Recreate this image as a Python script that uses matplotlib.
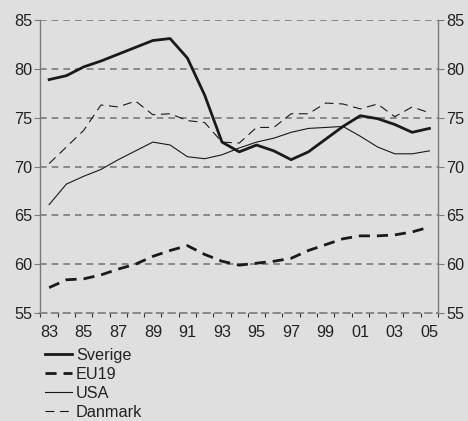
import numpy as np
import matplotlib.pyplot as plt

plt.rcParams['font.family'] = ['Liberation Sans', 'DejaVu Sans']

YEARS = ['83', '84', '85', '86', '87', '88', '89', '90', '91', '92', '93', '94',
         '95', '96', '97', '98', '99', '00', '01', '02', '03', '04', '05']

SVERIGE = [78.9, 79.3, 80.2, 80.8, 81.5, 82.2, 82.9, 83.1, 81.1, 77.3, 72.5, 71.5,
           72.2, 71.6, 70.7, 71.5, 72.8, 74.1, 75.2, 74.9, 74.3, 73.5, 73.9]
EU19 = [57.6, 58.4, 58.5, 58.9, 59.5, 60.0, 60.8, 61.4, 61.9, 61.0, 60.3, 59.9,
        60.1, 60.3, 60.6, 61.4, 62.0, 62.6, 62.9, 62.9, 63.0, 63.3, 63.8]
USA = [66.1, 68.2, 69.0, 69.7, 70.7, 71.6, 72.5, 72.2, 71.0, 70.8, 71.2, 71.9,
       72.5, 72.9, 73.5, 73.9, 74.0, 74.1, 73.1, 72.0, 71.3, 71.3, 71.6]
DANMARK = [70.3, 72.0, 73.7, 76.3, 76.1, 76.7, 75.3, 75.4, 74.7, 74.5, 72.5, 72.4,
           74.0, 74.0, 75.4, 75.4, 76.5, 76.4, 75.9, 76.4, 75.1, 76.1, 75.5]

BG = '#dfdfdf'
GRID = '#7a7a7a'
LINE = '#1a1a1a'
FS = 11.7

fig = plt.figure(figsize=(4.68, 4.21), dpi=100, facecolor=BG)
ax = fig.add_axes([0.0865, 0.2565, 0.8495, 0.696])
ax.set_facecolor(BG)

x = np.arange(len(YEARS))
ax.plot(x, SVERIGE, color=LINE, lw=2.0, label='Sverige', zorder=5)
ax.plot(x, EU19, color=LINE, lw=2.0, dashes=(4, 2.5), label='EU19', zorder=5)
ax.plot(x, USA, color=LINE, lw=0.8, label='USA', zorder=4)
ax.plot(x, DANMARK, color=LINE, lw=0.8, dashes=(8, 5), label='Danmark', zorder=4)

ax.set_xlim(-0.5, len(YEARS) - 0.5)
ax.set_ylim(55, 85)
for v in range(60, 86, 5):
    ax.axhline(v, color=GRID, lw=1.2, dashes=(4, 3), zorder=1)

ax.spines['top'].set_visible(False)
ax.spines['bottom'].set_color(GRID)
ax.spines['bottom'].set_linewidth(1.2)
ax.spines['bottom'].set_linestyle((0, (4, 3)))
for s in ['left', 'right']:
    ax.spines[s].set_color(GRID)
    ax.spines[s].set_linewidth(1.0)

# year ticks at category edges, labels every second year at centres
ax.set_xticks(np.arange(-0.5, len(YEARS), 1.0), minor=True)
ax.set_xticks(x[::2])
ax.set_xticklabels(YEARS[::2])
ax.tick_params(axis='x', which='minor', length=3, color='#333333', width=0.8)
ax.tick_params(axis='x', which='major', length=0, pad=8.5, labelsize=FS, labelcolor='#222222')

ax.set_yticks(range(55, 86, 5))
ax.tick_params(axis='y', which='both', length=4.5, color=GRID, labelsize=FS,
               labelcolor='#222222', pad=1.5, left=True, right=True,
               labelleft=True, labelright=True)

fig.legend(loc='upper left', bbox_to_anchor=(0.096, 0.173), frameon=False,
           fontsize=FS, handlelength=1.65, handletextpad=0.25, labelspacing=0.24,
           borderaxespad=0, borderpad=0, labelcolor='#222222')

fig.savefig('out.png', dpi=100, facecolor=BG)
